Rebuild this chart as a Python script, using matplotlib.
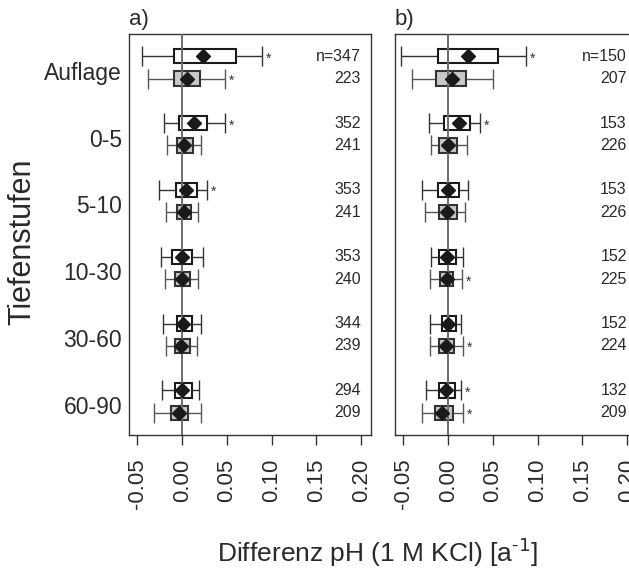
import numpy as np
import matplotlib.pyplot as plt
import matplotlib.transforms as mtransforms

plt.rcParams['font.family'] = ['Liberation Sans', 'DejaVu Sans']

# === Daten ===
depths = ["Auflage", "0-5", "5-10", "10-30", "30-60", "60-90"]
xticks = [-0.05, 0.00, 0.05, 0.10, 0.15, 0.20]
xticklabels = ["-0.05", "0.00", "0.05", "0.10", "0.15", "0.20"]

# Panel a), weisse Boxen
a_w_lo   = [-0.045, -0.0205, -0.0265, -0.0235, -0.021, -0.0223]
a_w_q1   = [-0.0094, -0.0038, -0.0075, -0.011, -0.0056, -0.0086]
a_w_q3   = [0.060, 0.0275, 0.0167, 0.0107, 0.0104, 0.0104]
a_w_hi   = [0.089, 0.0476, 0.0275, 0.023, 0.0205, 0.0186]
a_w_mean = [0.023, 0.0126, 0.0045, -0.0004, 0.0007, -0.0004]
a_w_n    = [347, 352, 353, 353, 344, 294]
a_w_sig  = [True, True, True, False, False, False]
# Panel a), graue Boxen
a_g_lo   = [-0.038, -0.0168, -0.018, -0.019, -0.0186, -0.0317]
a_g_q1   = [-0.0094, -0.006, -0.006, -0.0078, -0.0078, -0.0123]
a_g_q3   = [0.0197, 0.0115, 0.0093, 0.009, 0.0085, 0.007]
a_g_hi   = [0.048, 0.0205, 0.018, 0.018, 0.0167, 0.0205]
a_g_mean = [0.0056, 0.0018, 0.0018, -0.0008, -0.0019, -0.0041]
a_g_n    = [223, 241, 241, 240, 239, 209]
a_g_sig  = [True, False, False, False, False, False]

# Panel b), weisse Boxen
b_w_lo   = [-0.0532, -0.021, -0.029, -0.0196, -0.020, -0.0245]
b_w_q1   = [-0.0119, -0.0052, -0.0119, -0.0104, -0.0067, -0.010]
b_w_q3   = [0.0551, 0.0238, 0.0119, 0.009, 0.009, 0.0078]
b_w_hi   = [0.0874, 0.036, 0.022, 0.0164, 0.0141, 0.0141]
b_w_mean = [0.0223, 0.0115, 0.0, -0.0015, -0.0007, -0.0026]
b_w_n    = [150, 153, 153, 152, 152, 132]
b_w_sig  = [True, True, False, False, False, True]
# Panel b), graue Boxen
b_g_lo   = [-0.0405, -0.0196, -0.0257, -0.020, -0.0204, -0.0289]
b_g_q1   = [-0.0141, -0.010, -0.0108, -0.0093, -0.010, -0.0149]
b_g_q3   = [0.0201, 0.010, 0.010, 0.0056, 0.0067, 0.0048]
b_g_hi   = [0.0502, 0.0208, 0.0193, 0.0156, 0.0164, 0.0164]
b_g_mean = [0.0041, 0.0, -0.0011, -0.0018, -0.0026, -0.007]
b_g_n    = [207, 226, 226, 225, 224, 209]
b_g_sig  = [False, False, False, True, True, True]


def draw_series(ax, ypos, lo, q1, q3, hi, mean, n, sig, face, edge, whisk, first_prefix):
    ax.barh(ypos, np.array(q3) - np.array(q1), left=q1, height=0.64,
            color=face, edgecolor=edge, linewidth=1.5, zorder=2)
    ax.hlines(ypos, lo, q1, color=whisk, linewidth=1.0, zorder=1)
    ax.hlines(ypos, q3, hi, color=whisk, linewidth=1.0, zorder=1)
    ax.vlines(lo, ypos - 0.45, ypos + 0.45, color=whisk, linewidth=1.0, zorder=1)
    ax.vlines(hi, ypos - 0.45, ypos + 0.45, color=whisk, linewidth=1.0, zorder=1)
    ax.plot(mean, ypos, linestyle="none", marker="D", markersize=7.5,
            color="#1a1a1a", zorder=4)
    trans = mtransforms.blended_transform_factory(ax.transAxes, ax.transData)
    for i, y in enumerate(ypos):
        txt = (first_prefix + str(n[i])) if i == 0 else str(n[i])
        ax.text(0.958, y, txt, transform=trans, ha="right", va="center",
                fontsize=11.5, color="#2a2a2a")
        if sig[i]:
            ax.text(hi[i] + 0.004, y + 0.1, "*", ha="left", va="center",
                    fontsize=10, color="#333333")


fig = plt.figure(figsize=(6.29, 5.79), dpi=100)
ax_a = fig.add_axes([129 / 629, 1 - 435 / 579, 242 / 629, 401 / 579])
ax_b = fig.add_axes([395 / 629, 1 - 435 / 579, 242 / 629, 401 / 579])

y_white = np.arange(len(depths)) * 3.0
y_gray = y_white + 1.0

panels = [
    (ax_a, "a)", (a_w_lo, a_w_q1, a_w_q3, a_w_hi, a_w_mean, a_w_n, a_w_sig),
     (a_g_lo, a_g_q1, a_g_q3, a_g_hi, a_g_mean, a_g_n, a_g_sig)),
    (ax_b, "b)", (b_w_lo, b_w_q1, b_w_q3, b_w_hi, b_w_mean, b_w_n, b_w_sig),
     (b_g_lo, b_g_q1, b_g_q3, b_g_hi, b_g_mean, b_g_n, b_g_sig)),
]

for ax, label, white, gray in panels:
    ax.axvline(0, color="#6e6e6e", linewidth=1.4, zorder=3)
    draw_series(ax, y_white, *white, face="white", edge="#1a1a1a",
                whisk="#333333", first_prefix="n=")
    draw_series(ax, y_gray, *gray, face="#c8c8c8", edge="#333333",
                whisk="#555555", first_prefix="")

    ax.set_xlim(-0.0595, 0.211)
    ax.set_ylim(17, -1)
    ax.set_xticks(xticks)
    ax.set_xticklabels(xticklabels, rotation=90, fontsize=16, color="#2a2a2a")
    ax.tick_params(axis="x", length=7, width=1, pad=10, color="#333333")
    ax.set_yticks(y_white + 0.65)
    if ax is ax_a:
        ax.set_yticklabels(depths, fontsize=16.5, color="#2a2a2a")
    else:
        ax.set_yticklabels([])
    ax.tick_params(axis="y", length=0, pad=5)
    for sp in ax.spines.values():
        sp.set_color("#333333")
        sp.set_linewidth(1.0)
    ax.text(0.0, 1.01, label, transform=ax.transAxes, ha="left", va="bottom",
            fontsize=16, color="#2a2a2a")

fig.text(22 / 629, 1 - 242 / 579, "Tiefenstufen", rotation=90, ha="center",
         va="center", fontsize=22, color="#2a2a2a")
fig.text(378 / 629, 1 - 552 / 579,
         "Differenz pH (1 M KCl) [a$^{\\mathregular{\u2010}1}$]",
         ha="center", va="center", fontsize=19, color="#2a2a2a")

fig.savefig("out.png", dpi=100)
